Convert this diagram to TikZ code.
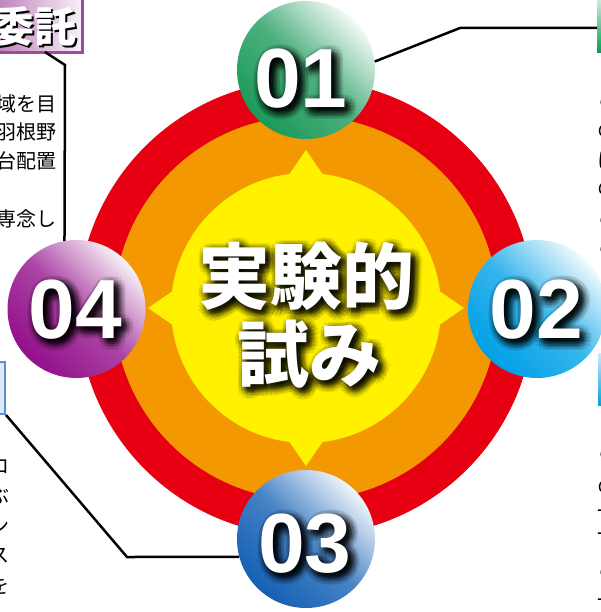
\documentclass[tikz,border=0pt]{standalone}
\usepackage{fontspec}
\setmainfont{Liberation Sans}
\newfontfamily\cjk{Noto Sans CJK JP}
\usetikzlibrary{calc}
\definecolor{ringred}{HTML}{E60012}
\definecolor{ringorange}{HTML}{F39800}
\definecolor{ringyellow}{HTML}{FFF100}
\definecolor{ballgreen}{HTML}{1B9A5A}
\definecolor{ballcyan}{HTML}{00A0E6}
\definecolor{ballblue}{HTML}{1460B4}
\definecolor{ballpurple}{HTML}{920F8A}
\definecolor{tagpurple}{HTML}{A04A9E}
\definecolor{taggreen}{HTML}{00A050}
\definecolor{tagblue}{HTML}{5A8ED4}
\newcommand\glowlabel[4]{%
  \foreach \a in {0,30,...,330}{\foreach \r in {2,5,8}{%
    \node[glowcopy, font=#3] (#1-\a-\r) at ($(#2)+(4,4)+(\a:\r)$) {#4};}}%
  \node[text=white, font=#3, inner sep=0] (#1) at (#2) {#4};}
\begin{document}
\begin{tikzpicture}[x=1pt,y=-1pt,
  ball/.style={circle, inner sep=0, minimum size=138,
    top color=#1!6!white, bottom color=#1, middle color=#1!78!white, shading angle=-45},
  glowcopy/.style={text=black, opacity=0.08, inner sep=0},
  leader/.style={draw=black, line width=2.5},
  side/.style={font=\cjk\fontsize{20}{20}\selectfont, inner sep=0}]
\useasboundingbox (0,0) rectangle (601,612);
\clip (0,0) rectangle (601,612);
\coordinate (O) at (306,308);
% rings
\fill[ringred] (O) circle[radius=228];
\fill[ringorange] (O) circle[radius=192];
\fill[ringyellow] (O) circle[radius=135];
\foreach \t in {0,90,180,270}{
  \fill[ringyellow] ($(O)+(\t:158)$) -- ($(O)+(\t+9:130)$) -- ($(O)+(\t-9:130)$) -- cycle;}
% centre text
\glowlabel{t1}{306,276}{\cjk\bfseries\fontsize{72}{72}\selectfont}{実験的}
\glowlabel{t2}{309,354}{\cjk\bfseries\fontsize{72}{72}\selectfont}{試み}
% tags and side texts
\node[anchor=north east, minimum width=100, minimum height=52, inner sep=0,
  left color=tagpurple!80!white, right color=tagpurple!8!white] (box1) at (82,0) {};
\draw[tagpurple, line width=3] (box1.north east) -- (box1.south east) -- (box1.south west);
\node[anchor=east, text=black, font=\cjk\bfseries\fontsize{42}{42}\selectfont, inner sep=0] (tag1s) at (79,29) {委託};
\node[anchor=east, text=white, font=\cjk\bfseries\fontsize{42}{42}\selectfont, inner sep=0] (tag1) at (77,27) {委託};
\node[anchor=north west, minimum width=10, minimum height=52, inner sep=0,
  top color=taggreen!20!white, bottom color=taggreen] (box2) at (597,0) {};
\node[anchor=north west, minimum width=10, minimum height=52, inner sep=0,
  top color=ballcyan!20!white, bottom color=ballcyan] (box3) at (598,353) {};
\node[anchor=south east, minimum width=20, minimum height=52, inner sep=0,
  fill=tagblue!20!white, draw=tagblue, line width=2] (box4) at (6,415) {};
\node[side, anchor=east] (l1) at (57,104) {域を目};
\node[side, anchor=east] (l2) at (57,132) {羽根野};
\node[side, anchor=east] (l3) at (57,161) {台配置};
\node[side, anchor=east] (l4) at (57,219) {専念し};
\node[side, anchor=east] (m1) at (10,467) {ロ};
\node[side, anchor=east] (m2) at (10,496) {ぶ};
\node[side, anchor=east] (m3) at (10,526) {ン};
\node[side, anchor=east] (m4) at (10,556) {ス};
\node[side, anchor=east] (m5) at (10,586) {を};
\node[side, anchor=west] (r1) at (597,100) {こ};
\node[side, anchor=west] (r2) at (597,131) {の};
\node[side, anchor=west] (r3) at (597,160) {に};
\node[side, anchor=west] (r4) at (597,189) {の};
\node[side, anchor=west] (r5) at (597,218) {こ};
\node[side, anchor=west] (r6) at (597,247) {こ};
\node[side, anchor=west] (s1) at (597,452) {こ};
\node[side, anchor=west] (s2) at (597,487) {の};
\node[side, anchor=west] (s3) at (597,514) {一};
\node[side, anchor=west] (s4) at (597,537) {一};
\node[side, anchor=west] (s5) at (597,570) {こ};
\node[side, anchor=west] (s6) at (597,603) {一};
% balls
\node[ball=ballgreen] (c01) at (306,70) {};
\node[ball=ballcyan] (c02) at (537,309) {};
\node[ball=ballblue] (c03) at (306,539) {};
\node[ball=ballpurple] (c04) at (76.5,309) {};
\glowlabel{n1}{301,79}{\bfseries\fontsize{84}{84}\selectfont}{01}
\glowlabel{n2}{536.5,310}{\bfseries\fontsize{84}{84}\selectfont}{02}
\glowlabel{n3}{305,543.5}{\bfseries\fontsize{84}{84}\selectfont}{03}
\glowlabel{n4}{75.5,309.5}{\bfseries\fontsize{84}{84}\selectfont}{04}
% leaders
\coordinate (k1) at (45,52);
\coordinate (k2) at (597,28);
\draw[leader] (c01.7) -- (460,28) -- (k2);
\draw[leader] (k1) -- (65,65) -- (c04.100);
\draw[leader] (box4.south east) -- (127,557) -- (c03.195);
\end{tikzpicture}
\end{document}
